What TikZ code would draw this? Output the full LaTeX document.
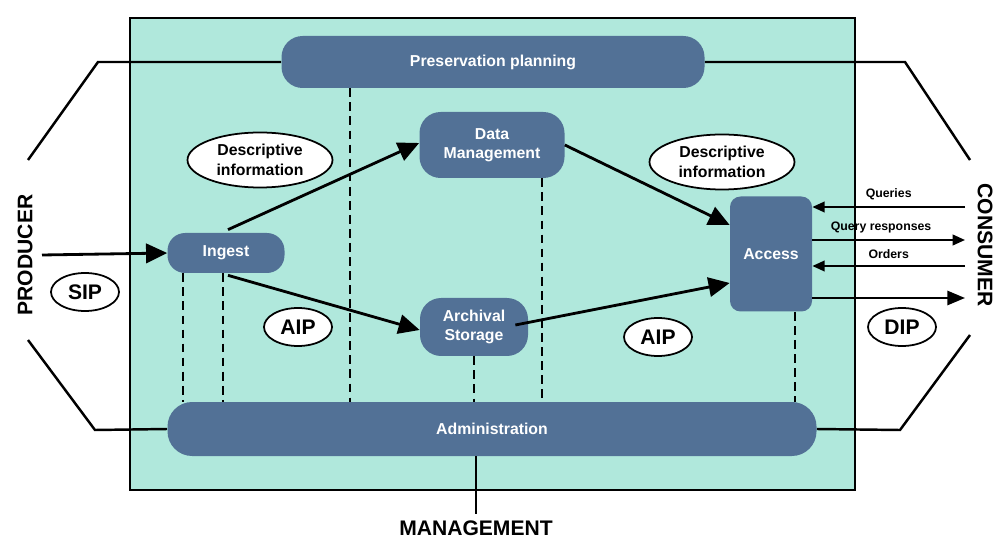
\documentclass[tikz,border=0pt]{standalone}
\usepackage{fontspec}
\setmainfont{Liberation Sans}
\usetikzlibrary{positioning,arrows.meta,calc,shapes.geometric}
\definecolor{boxblue}{HTML}{527196}
\definecolor{oaisbg}{HTML}{B0E8DC}
\newlength\unitpx
\setlength\unitpx{0.02cm}
\tikzset{
    func/.style = {
        fill=boxblue,
        text=white,
        font=\bfseries\small,
        rounded corners=12pt,
        align=center,
        inner sep=0pt
    },
    info/.style = {
        draw,
        shape=ellipse,
        fill=white,
        line width=1pt,
        font=\bfseries\small,
        align=center,
        inner sep=1pt
    },
    big/.style = {
        line width=1.6pt,
        -{Triangle[length=12pt,width=11pt]}
    },
    small/.style = {
        line width=1.2pt,
        -{Triangle[length=7pt,width=6pt]}
    },
    frame/.style = {line width=1.4pt},
    link/.style = {line width=1.4pt, dash pattern=on 5pt off 3pt},
}
\begin{document}
\begin{tikzpicture}[x=0.02cm,y=-0.02cm]
            \useasboundingbox (0,0) rectangle (1006,543);
            \draw[fill=oaisbg, line width=1.4pt] (130,18) rectangle (855,490);

            \node[func, minimum width=423\unitpx, minimum height=52\unitpx] (pp) at (493,62) {Preservation planning};
            \node[func, minimum width=145\unitpx, minimum height=66\unitpx] (dm) at (492,145) {Data\\Management};
            \node[func, minimum width=117\unitpx, minimum height=40\unitpx, rounded corners=10pt] (ingest) at (226,253) {Ingest};
            \node[func, minimum width=108\unitpx, minimum height=58\unitpx] (as) at (474,327) {Archival\\Storage};
            \node[func, minimum width=82\unitpx, minimum height=115\unitpx, rounded corners=6pt] (access) at (771,254) {Access};
            \node[func, minimum width=649\unitpx, minimum height=54\unitpx, rounded corners=14pt] (admin) at (492,429) {Administration};

            \node[info, minimum width=145\unitpx, minimum height=55\unitpx] (desc1) at (260,160) {Descriptive\\information};
            \node[info, minimum width=145\unitpx, minimum height=55\unitpx] (desc2) at (722,162) {Descriptive\\information};
            \node[info, minimum width=68\unitpx, minimum height=38\unitpx, font=\bfseries\large] (sip) at (85,292) {SIP};
            \node[info, minimum width=68\unitpx, minimum height=38\unitpx, font=\bfseries\large] (aip1) at (298,327) {AIP};
            \node[info, minimum width=68\unitpx, minimum height=38\unitpx, font=\bfseries\large] (aip2) at (658,337) {AIP};
            \node[info, minimum width=68\unitpx, minimum height=38\unitpx, font=\bfseries\large] (dip) at (902,327) {DIP};

            \node[rotate=90, font=\bfseries\large] (producer) at (25,255) {PRODUCER};
            \node[rotate=-90, font=\bfseries\large] (consumer) at (985,245) {CONSUMER};
            \node[font=\bfseries\large] (mgmt) at (476,528) {MANAGEMENT};

            % outer frame lines
            \draw[frame] (28,160) -- (98,62) -- (pp.west);
            \draw[frame] (28,340) -- (95,430) -- (admin.west);
            \draw[frame] (pp.east) -- (905,62) -- (970,160);
            \draw[frame] (admin.east) -- (900,430) -- (970,335);
            \draw[frame] (admin.south) ++(-16,0) coordinate (m) -- (m |- mgmt.north);

            % flows
            \coordinate (pin) at (42,255);
            \draw[big] (pin) -- (ingest.west);
            \draw[big] ($(ingest.north)+(2,-3)$) -- ($(dm.west)+(0,-2)$);
            \draw[big] ($(ingest.south)+(2,2)$) -- ($(as.west)+(0,3)$);
            \draw[big] (dm.east) -- ($(access.west)+(0,-29)$);
            \draw[big] ($(as.east)+(-13,-2)$) -- ($(access.west)+(0,29)$);

            \coordinate (cq) at (965,207);
            \coordinate (cr) at (965,240);
            \coordinate (co) at (965,266);
            \coordinate (cd) at (965,298);
            \draw[small] (cq) -- (access.east |- cq) node[pos=0.5, above, font=\bfseries\scriptsize] {Queries};
            \draw[small] (access.east |- cr) -- (cr) node[pos=0.45, above, font=\bfseries\scriptsize] {Query responses};
            \draw[small] (co) -- (access.east |- co) node[pos=0.5, above, font=\bfseries\scriptsize] {Orders};
            \draw[line width=1.4pt, -{Triangle[length=10pt,width=8pt]}] (access.east |- cd) -- (cd);

            % links to administration
            \draw[link] (pp.south -| 350,0) -- (admin.north -| 350,0);
            \draw[link] (dm.south -| 542,0) -- (admin.north -| 542,0);
            \draw[link] (as.south) -- (admin.north -| as.south);
            \draw[link] (ingest.south -| 183,0) -- (admin.north -| 183,0);
            \draw[link] (ingest.south -| 223,0) -- (admin.north -| 223,0);
            \draw[link] (access.south -| 795,0) -- (admin.north -| 795,0);
\end{tikzpicture}
\end{document}
